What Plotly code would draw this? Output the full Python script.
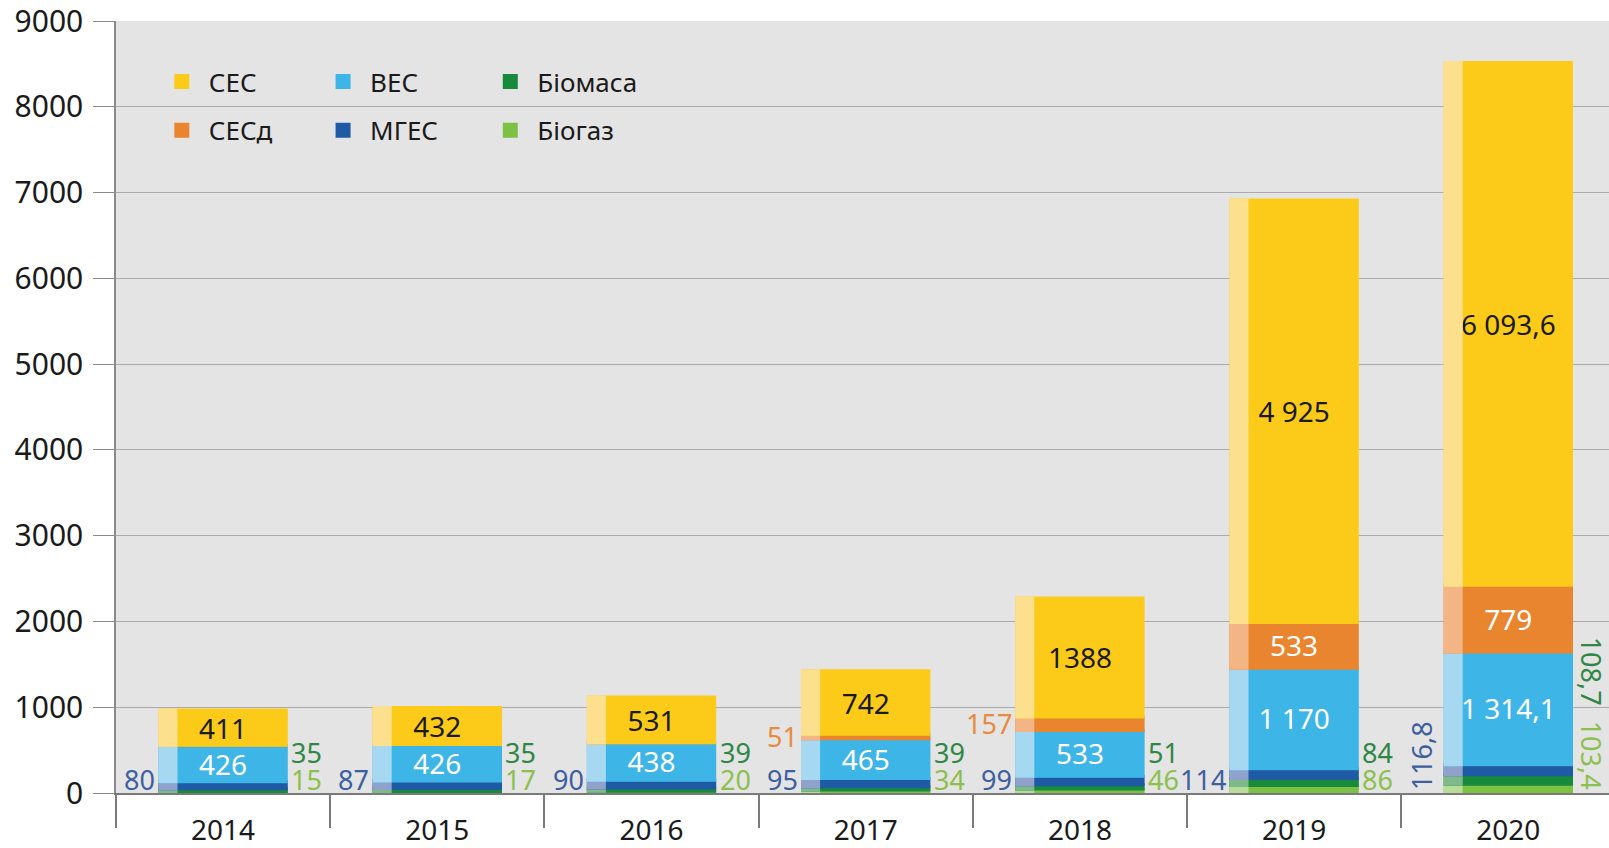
import numpy as np
import plotly.graph_objects as go

years = ["2014", "2015", "2016", "2017", "2018", "2019", "2020"]

# series (bottom -> top)
biogas = [15, 17, 20, 34, 46, 86, 103.4]
biomass = [35, 35, 39, 39, 51, 84, 108.7]
mhes = [80, 87, 90, 95, 99, 114, 116.8]
wind = [426, 426, 438, 465, 533, 1170, 1314.1]
solar_home = [0, 0, 0, 51, 157, 533, 779]
solar = [411, 432, 531, 742, 1388, 4925, 6093.6]

solar_text = ["411", "432", "531", "742", "1388", "4 925", "6 093,6"]


def fmt2(v):
    if float(v).is_integer():
        s = f"{int(v):,}".replace(",", " ")
    else:
        s = f"{v:,.1f}".replace(",", " ").replace(".", ",")
    return s


series = [
    # name, values, color, light color, legend, rank, inside text, text color
    ("Біогаз", biogas, "#7cc143", "#b9dd98", "legend3", 2, None, None),
    ("Біомаса", biomass, "#178a3b", "#7fba8d", "legend3", 1, None, None),
    ("МГЕС", mhes, "#1f5aa5", "#8ea2cc", "legend2", 2, None, None),
    ("ВЕС", wind, "#3db5e6", "#a6d9f1", "legend2", 1, [fmt2(v) for v in wind], "white"),
    ("СЕСд", solar_home, "#e9852f", "#f3b585", "legend", 2,
     ["" if v < 300 else fmt2(v) for v in solar_home], "white"),
    ("СЕС", solar, "#fccb1a", "#fde08d", "legend", 1, solar_text, "#1a1a1a"),
]

FONT = "Noto Sans, Open Sans, DejaVu Sans, sans-serif"
BAR_W = 0.59
STRIP_W = 0.075
OFF = -BAR_W / 2
LW = 3

fig = go.Figure()
base = np.zeros(len(years))
for name, vals, col, light, leg, rank, txt, tcol in series:
    vals = np.array(vals, dtype=float)
    fig.add_trace(go.Bar(
        x=years, y=vals, base=base.copy(), name=name,
        marker=dict(color=col, line=dict(width=LW, color=col)),
        width=BAR_W, offset=OFF,
        text=txt, textposition="inside" if txt else "none",
        insidetextanchor="middle", textangle=0, constraintext="none",
        insidetextfont=dict(family=FONT, size=28, color=tcol or "black"),
        legend=leg, legendgroup=name, legendrank=rank, showlegend=True,
        hoverinfo="skip",
    ))
    fig.add_trace(go.Bar(
        x=years, y=vals, base=base.copy(), name=name + " ",
        marker=dict(color=light, line=dict(width=LW, color=light)),
        width=STRIP_W, offset=OFF,
        showlegend=False, hoverinfo="skip",
    ))
    base = base + vals

# outside labels (x given as category index)
HALF_PX = 63
LBL = 27
mhes_col = "#3d5f9f"
biom_col = "#2f8745"
biog_col = "#8bc04f"
sesd_col = "#e98b3c"
anns = []
for i, yr in enumerate(years):
    rotated = not float(mhes[i]).is_integer()
    if not rotated:
        anns.append(dict(x=i, y=0, text=fmt2(mhes[i]), xanchor="right", yanchor="bottom",
                         xshift=-HALF_PX - 4, yshift=-6, font=dict(color=mhes_col)))
        anns.append(dict(x=i, y=0, text=fmt2(biogas[i]), xanchor="left", yanchor="bottom",
                         xshift=HALF_PX + 4, yshift=-6, font=dict(color=biog_col)))
        anns.append(dict(x=i, y=0, text=fmt2(biomass[i]), xanchor="left", yanchor="bottom",
                         xshift=HALF_PX + 4, yshift=21, font=dict(color=biom_col)))
    else:
        anns.append(dict(x=i, y=0, text=fmt2(mhes[i]), xanchor="right", yanchor="bottom",
                         xshift=-HALF_PX - 4, yshift=2, textangle=-90, font=dict(color=mhes_col)))
        anns.append(dict(x=i, y=0, text=fmt2(biogas[i]), xanchor="left", yanchor="bottom",
                         xshift=HALF_PX + 1, yshift=2, textangle=90, font=dict(color=biog_col)))
        anns.append(dict(x=i, y=0, text=fmt2(biomass[i]), xanchor="left", yanchor="bottom",
                         xshift=HALF_PX + 1, yshift=86, textangle=90, font=dict(color=biom_col)))
    if 0 < solar_home[i] < 300:
        mid = biogas[i] + biomass[i] + mhes[i] + wind[i] + solar_home[i] / 2
        anns.append(dict(x=i, y=mid, text=fmt2(solar_home[i]), xanchor="right", yanchor="middle",
                         xshift=-HALF_PX - 4, font=dict(color=sesd_col)))
for a in anns:
    a["showarrow"] = False
    a["font"].update(family=FONT, size=LBL)
    a["borderpad"] = 0

leg_common = dict(
    orientation="v", bgcolor="rgba(0,0,0,0)", font=dict(family=FONT, size=26, color="#1a1a1a"),
    traceorder="grouped", tracegroupgap=12, itemwidth=44,
    xref="paper", yref="paper", xanchor="left", yanchor="top", y=0.952, itemclick=False,
)

fig.update_layout(
    width=1609, height=848,
    barmode="overlay",
    paper_bgcolor="white", plot_bgcolor="#e4e4e4",
    margin=dict(l=116, r=0, t=21, b=55, autoexpand=False),
    font=dict(family=FONT, size=28, color="#1a1a1a"),
    xaxis=dict(type="category", categoryorder="array", categoryarray=years,
               range=[-0.5, len(years) - 0.53], tickson="boundaries", ticks="outside", ticklen=33,
               tickcolor="#7a7a7a", tickwidth=1.5, showline=True, linecolor="#7a7a7a",
               linewidth=1.5, showgrid=False, tickfont=dict(size=28, color="#1a1a1a"),
               tickangle=0, ticklabelstandoff=12, automargin=False),
    yaxis=dict(range=[0, 9000], dtick=1000, ticks="outside", ticklen=21, tickcolor="#8a8a8a",
               tickwidth=1.2, showline=True, linecolor="#8a8a8a", linewidth=1.5,
               gridcolor="#ababab", gridwidth=1.2, zeroline=False, automargin=False,
               ticklabeloverflow="allow",
               tickfont=dict(size=30, color="#1a1a1a"), ticklabelstandoff=4),
    legend=dict(leg_common, x=0.026),
    legend2=dict(leg_common, x=0.134),
    legend3=dict(leg_common, x=0.246),
    annotations=anns,
    showlegend=True,
)

fig.write_html("out.html", config={"displayModeBar": False},
               post_script="document.body.style.margin='0';document.body.style.overflow='hidden';")
